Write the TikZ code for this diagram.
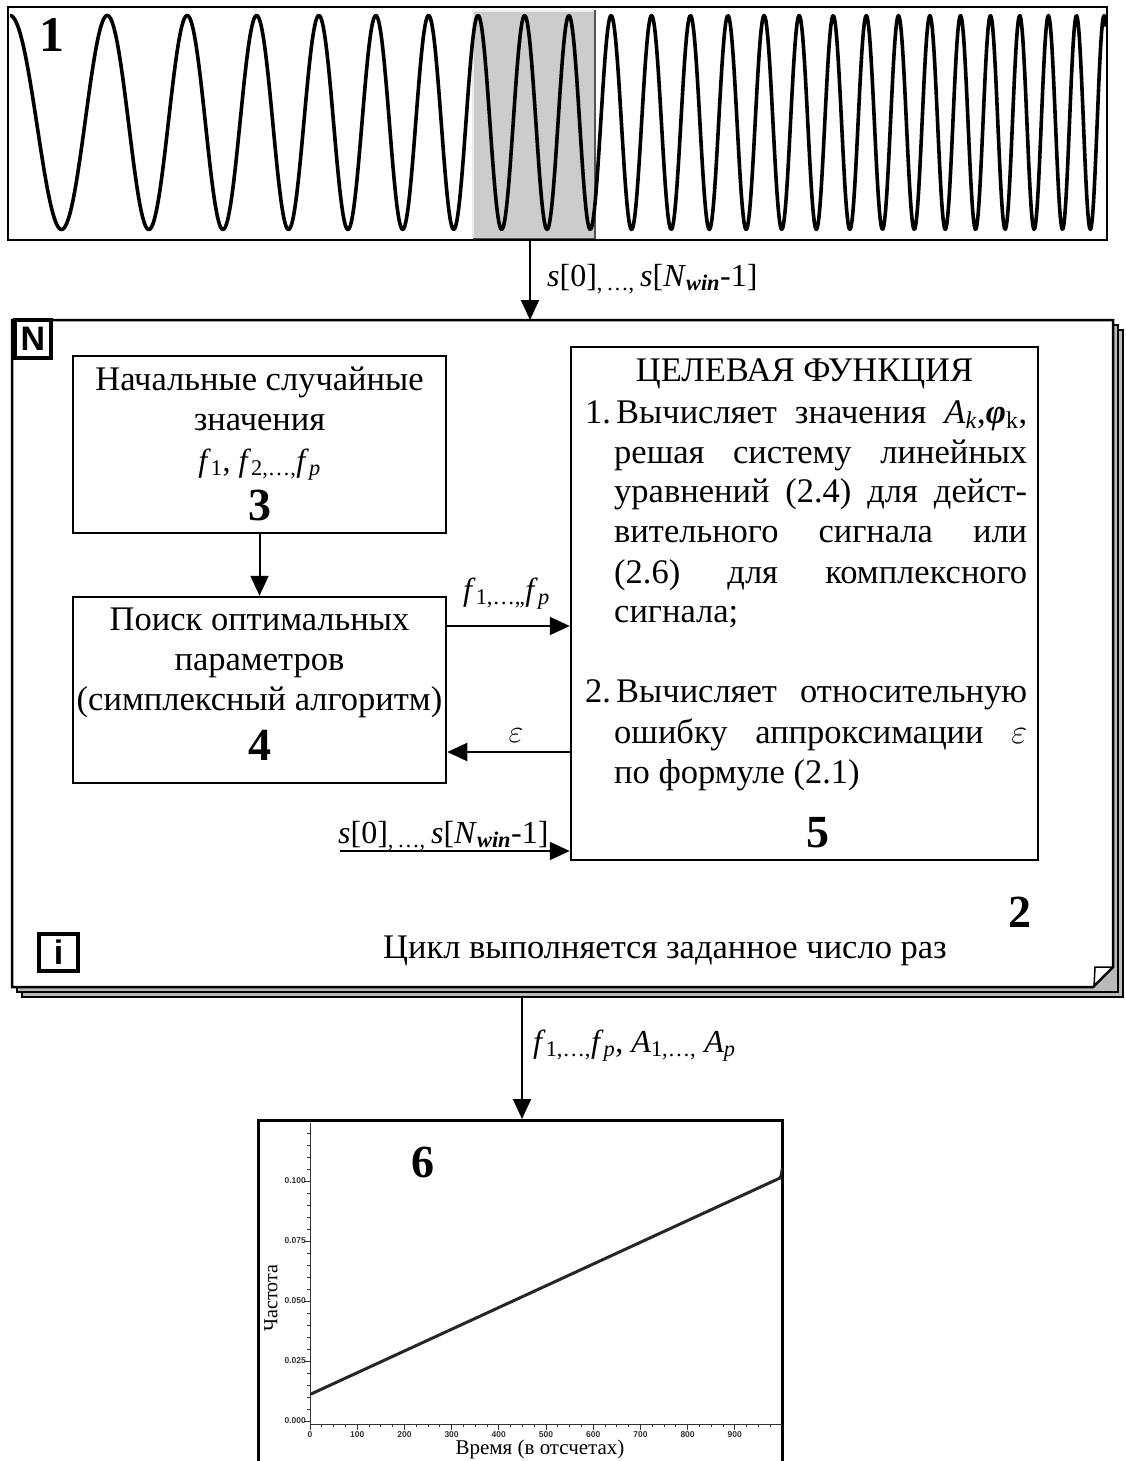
\RequirePackage{fix-cm}
\documentclass[tikz,border=0pt]{standalone}
\usepackage{amsmath}
\usepackage{fontspec}
\setmainfont{Liberation Serif}
\newfontfamily\lsans{Liberation Sans}
\usetikzlibrary{arrows.meta}
\tikzset{
  box/.style={draw, line width=2.5pt, inner sep=0pt},
  arr/.style={line width=2pt, -{Triangle[length=20pt,width=18pt]}},
  txt/.style={inner sep=0pt, font=\fontsize{34.5}{40}\selectfont},
  sig/.style={inner sep=0pt, font=\fontsize{32}{38}\selectfont},
  num/.style={inner sep=0pt, font=\fontsize{46}{50}\selectfont\bfseries},
  lbl/.style={inner sep=0pt, font=\fontsize{32}{36}\selectfont},
  icon/.style={draw, line width=4pt, inner sep=0pt, fill=white, font=\lsans\bfseries\fontsize{34}{36}\selectfont},
  page/.style={fill=gray!55, draw=black, line width=1.2pt},
  tick/.style={line width=0.8pt, gray!40!black},
  ticklbl/.style={inner sep=0pt, text=gray!40!black, font=\lsans\bfseries\fontsize{8.5}{10}\selectfont},
}
\newcommand{\sigrange}{\textit{s}[0]\textsubscript{,\,\dots,}\,\textit{s}[\textit{N}\textsubscript{\textbf{\textit{win}}}-1]}
\newcommand{\fv}[1]{\textit{f}\textsubscript{#1}}
\newcommand{\av}[1]{\textit{A}\textsubscript{#1}}
\begin{document}
\begin{tikzpicture}[x=1pt,y=-1pt]
\useasboundingbox (0,0) rectangle (1125,1461);
% ---------- signal box 1
\fill[gray!40] (472,10) rectangle (596,240);
\draw[line width=1.5pt, gray!15] (473,239) -- (473,11) -- (595,11);
\draw[line width=2pt, gray!65!black] (595,10) -- (595,239) -- (473,239);
\begin{scope}
  \clip (9,8) rectangle (1106,239);
  \draw[line width=3.6pt, line join=round]
    plot[domain=0:1096, samples=1200] ({10+\x},{122.5-107*cos(3.2598*\x+45.40*(\x/100)^2)});
\end{scope}
\node[draw, line width=2pt, inner sep=0pt, minimum width=1099, minimum height=233] (b1) at (557.5,123.5) {};
\node[num, anchor=base west, font=\fontsize{50}{54}\selectfont\bfseries] (n1) at (39,52) {1};
% ---------- loop frame 2
\filldraw[page] (22,330) rectangle (1123,997);
\filldraw[page] (17,325) rectangle (1118,992);
\filldraw[fill=white, draw=black, line width=2.5pt] (12,320) -- (1113,320) -- (1113,967) -- (1093,987) -- (12,987) -- cycle;
\draw[line width=1.5pt] (1113,967) -- (1095,967) -- (1094,987);
\coordinate (frametop) at (530,320);
\coordinate (framebottom) at (522,997);
\node[icon, minimum width=36, minimum height=38] (iconN) at (33,339) {N};
\node[icon, minimum width=39, minimum height=37] (iconI) at (58.5,952.5) {i};
% ---------- box 3
\node[box, minimum width=373, minimum height=177] (b3) at (259.5,444.5) {};
\node[txt, anchor=base] (t31) at (259.5,390) {Начальные случайные};
\node[txt, anchor=base] (t32) at (259.5,430) {значения};
\node[lbl, anchor=base] (t33) at (259.5,471) {\fv{1}, \fv{2,\dots,}\fv{\textit{p}}};
\node[num, anchor=base] (n3) at (259.5,520) {3};
% ---------- box 4
\node[box, minimum width=373, minimum height=186] (b4) at (259.5,690) {};
\node[txt, anchor=base] (t41) at (259.5,630) {Поиск оптимальных};
\node[txt, anchor=base] (t42) at (259.5,670) {параметров};
\node[txt, anchor=base] (t43) at (259.5,710) {(симплексный алгоритм)};
\node[num, anchor=base] (n4) at (259.5,760) {4};
% ---------- box 5
\node[box, minimum width=467, minimum height=513] (b5) at (804.5,603.5) {};
\node[txt, anchor=base] (t50) at (804.5,381) {ЦЕЛЕВАЯ ФУНКЦИЯ};
\node[txt, anchor=base west] (m1) at (585,423) {1.};
\node[txt, anchor=base west] (t51) at (616,423) {\makebox[411pt][s]{Вычисляет значения \av{\textit{k}},\textbf{\textit{φ}}\textsubscript{k},}};
\node[txt, anchor=base west] (t52) at (614,463) {\makebox[413pt][s]{решая систему линейных}};
\node[txt, anchor=base west] (t53) at (614,502) {\makebox[413pt][s]{уравнений (2.4) для дейст-}};
\node[txt, anchor=base west] (t54) at (614,542) {\makebox[413pt][s]{вительного сигнала или}};
\node[txt, anchor=base west] (t55) at (614,583) {\makebox[413pt][s]{(2.6) для комплексного}};
\node[txt, anchor=base west] (t56) at (614,622) {сигнала;};
\node[txt, anchor=base west] (m2) at (585,702) {2.};
\node[txt, anchor=base west] (t57) at (616,702) {\makebox[411pt][s]{Вычисляет относительную}};
\node[txt, anchor=base west] (t58) at (614,743) {\makebox[413pt][s]{ошибку аппроксимации $\varepsilon$}};
\node[txt, anchor=base west] (t59) at (614,783) {по формуле (2.1)};
\node[num, anchor=base] (n5) at (818,847) {5};
% ---------- frame texts
\node[num, anchor=base] (n2) at (1020,927) {2};
\node[txt, anchor=base] (cyc) at (665,958) {Цикл выполняется заданное число раз};
% ---------- connectors inside the loop
\draw[arr] (b3.south) -- (b4.north);
\draw[arr] (b4.east |- 0,626) -- (b5.west |- 0,626);
\node[lbl, anchor=base west] (lf) at (463,600) {\fv{1,\dots,,}\fv{\textit{p}}};
\draw[arr] (b5.west |- 0,752) -- (b4.east |- 0,752);
\node[lbl, anchor=base] (le) at (516,742) {$\varepsilon$};
\coordinate (sin) at (340,851);
\draw[arr] (sin) -- (b5.west |- sin);
\node[sig, anchor=base west] (ls2) at (338,843) {\sigrange};
% ---------- top connector
\draw[arr] (b1.south -| frametop) -- (frametop);
\node[sig, anchor=base west] (ls1) at (547,286) {\sigrange};
% ---------- plot 6
\coordinate (plottop) at (522,1119);
\draw[line width=3pt] (258,1461) -- (258,1120) -- (782,1120) -- (782,1461);
\draw[arr] (framebottom) -- (plottop);
\node[lbl, anchor=base west] (lout) at (533,1052) {\fv{1,\dots,}\fv{\textit{p}}, \av{1,\dots,} \av{\textit{p}}};
\node[num, anchor=base] (n6) at (423,1177) {6};
\draw[line width=1pt, gray!40!black] (310,1123) -- (310,1424) -- (782,1424);
\foreach \v in {0,...,24} {
  \pgfmathtruncatemacro{\r}{mod(\v,5)}
  \ifnum\r=0
    \draw[tick] (310,1421-12*\v) -- ++(-6,0);
  \else
    \draw[tick] (310,1421-12*\v) -- ++(-3,0);
  \fi
}
\foreach \v/\t in {0/0.000,1/0.025,2/0.050,3/0.075,4/0.100}
  \node[ticklbl, anchor=east] at (306,1421-60*\v) {\t};
\foreach \k in {0,...,39} {
  \pgfmathtruncatemacro{\r}{mod(\k,4)}
  \ifnum\r=0
    \draw[tick] (310+11.8*\k,1424) -- ++(0,6);
  \else
    \draw[tick] (310+11.8*\k,1424) -- ++(0,3);
  \fi
}
\foreach \k in {0,...,9}
  \node[ticklbl, anchor=north] at (310+47.2*\k,1431) {\pgfmathparse{int(100*\k)}\pgfmathresult};
\draw[line width=3pt, black!85, line cap=round] (311,1394) -- (780,1178);
\draw[line width=2pt, black!85] (779,1178) .. controls (781,1177) and (781,1172) .. (782,1168);
\node[inner sep=0pt, rotate=90, font=\fontsize{20}{24}\selectfont] (ylab) at (271,1298) {Частота};
\node[inner sep=0pt, anchor=base, font=\fontsize{21}{24}\selectfont] (xlab) at (540,1454) {Время (в отсчетах)};
\end{tikzpicture}
\end{document}
